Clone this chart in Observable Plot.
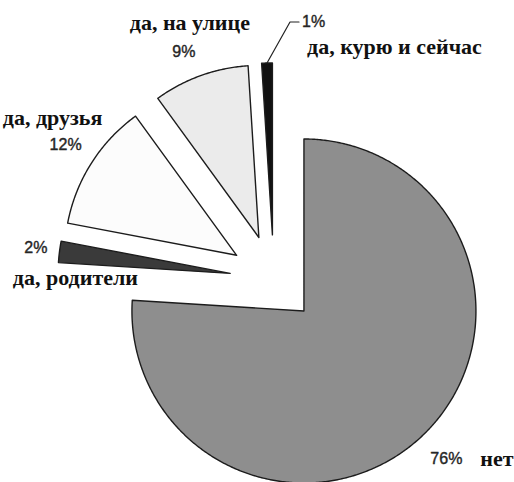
<!DOCTYPE html>
<html><head><meta charset="utf-8">
<script src="https://cdn.jsdelivr.net/npm/d3@7"></script>
<script src="https://cdn.jsdelivr.net/npm/@observablehq/plot@0.6"></script>
<style>html,body{margin:0;padding:0;background:#fff;overflow:hidden}#chart svg{display:block}</style>
</head><body><div id="chart"></div>
<script>
// ---- data ----
const categories = ["нет", "да, родители", "да, друзья", "да, на улице", "да, курю и сейчас"];
const values = [76, 2, 12, 9, 1];
const percentLabels = ["76%", "2%", "12%", "9%", "1%"];
const colors = ["#8e8e8e", "#3a3a3a", "#fcfcfc", "#ebebeb", "#111111"];

// ---- layout ----
const W = 514, H = 482;
const k = 172;              // pixels per radius unit
const cx = 273.3, cy = 278.4; // pie centre in pixels
const explode = 0.256;      // every slice pulled out by this fraction of the radius
const labelR = 1.15;        // percent labels on the bisector at this radius
const px = v => v / k;      // pixel offset -> data units
const layout = {
  "нет":               {pdx: 7,  pdy: 4,  ndx: 34,  ndy: 0,   nanchor: "start"},
  "да, родители":      {pdx: 2,  pdy: -1, ndx: -23, ndy: 30,  nanchor: "start"},
  "да, друзья":        {pdx: -4, pdy: -4, ndx: -13, ndy: -27, nanchor: "middle"},
  "да, на улице":      {pdx: -8, pdy: 1,  ndx: 6,   ndy: -29, nanchor: "middle"},
  "да, курю и сейчас": {leader: [[23, -41], [32, -41]], pdx: 3, pdy: 0, panchor: "start", ndx: 5, ndy: 25, nanchor: "start"}
};

const arcs = d3.pie().sort(null).value(d => d.value).startAngle(0).endAngle(2 * Math.PI)(
  categories.map((name, i) => ({name, value: values[i], pct: percentLabels[i]}))
);

const slicePts = [], leaderPts = [], pctLabels = [], nameLabels = [];
for (const a of arcs) {
  const name = a.data.name, L = layout[name];
  const mid = (a.startAngle + a.endAngle) / 2;
  const ax = explode * Math.sin(mid), ay = explode * Math.cos(mid);
  slicePts.push({name, x: ax, y: ay});
  const n = Math.max(2, Math.ceil((a.endAngle - a.startAngle) / (Math.PI / 360)));
  for (let j = 0; j <= n; j++) {
    const t = a.startAngle + (a.endAngle - a.startAngle) * j / n;
    slicePts.push({name, x: ax + Math.sin(t), y: ay + Math.cos(t)});
  }
  slicePts.push({name, x: ax, y: ay});

  let lx, ly, anchor;
  if (L.leader) {
    const ox = ax + Math.sin(mid), oy = ay + Math.cos(mid);
    leaderPts.push({x: ox, y: oy});
    for (const [dx, dy] of L.leader) leaderPts.push({x: ox + px(dx), y: oy - px(dy)});
    const last = L.leader[L.leader.length - 1];
    lx = ox + px(last[0] + L.pdx); ly = oy - px(last[1] + L.pdy); anchor = L.panchor;
  } else {
    lx = ax + labelR * Math.sin(mid) + px(L.pdx);
    ly = ay + labelR * Math.cos(mid) - px(L.pdy);
    anchor = "middle";
  }
  pctLabels.push({x: lx, y: ly, text: a.data.pct, anchor});
  nameLabels.push({x: lx + px(L.ndx), y: ly - px(L.ndy), text: name, anchor: L.nanchor});
}

const serif = "'Liberation Serif', 'Times New Roman', serif";
const sans = "'Liberation Sans', Arial, sans-serif";

const chart = Plot.plot({
  width: W, height: H,
  margin: 0,
  x: {domain: [-cx / k, (W - cx) / k], range: [0, W], axis: null},
  y: {domain: [-(H - cy) / k, cy / k], range: [H, 0], axis: null},
  color: {domain: categories, range: colors},
  style: {background: "#fff"},
  marks: [
    Plot.line(slicePts, {x: "x", y: "y", z: "name", fill: "name", stroke: "#1c1c1c", strokeWidth: 1.4, strokeLinejoin: "round"}),
    Plot.line(leaderPts, {x: "x", y: "y", stroke: "#222", strokeWidth: 1.2}),
    ...["middle", "start"].map(an => Plot.text(pctLabels.filter(d => d.anchor === an), {
      x: "x", y: "y", text: "text", textAnchor: an, fontFamily: sans, fontSize: 16, fill: "#262626",
      stroke: "#262626", strokeWidth: 0.4, ariaLabel: "pct"
    })),
    ...["middle", "start"].map(an => Plot.text(nameLabels.filter(d => d.anchor === an), {
      x: "x", y: "y", text: "text", textAnchor: an, fontFamily: serif, fontWeight: "bold", fontSize: 22, fill: "#111"
    }))
  ]
});
chart.querySelectorAll('g[aria-label="pct"] text').forEach(t => t.style.letterSpacing = "1.2px");
document.getElementById("chart").appendChild(chart);
</script>
</body></html>
